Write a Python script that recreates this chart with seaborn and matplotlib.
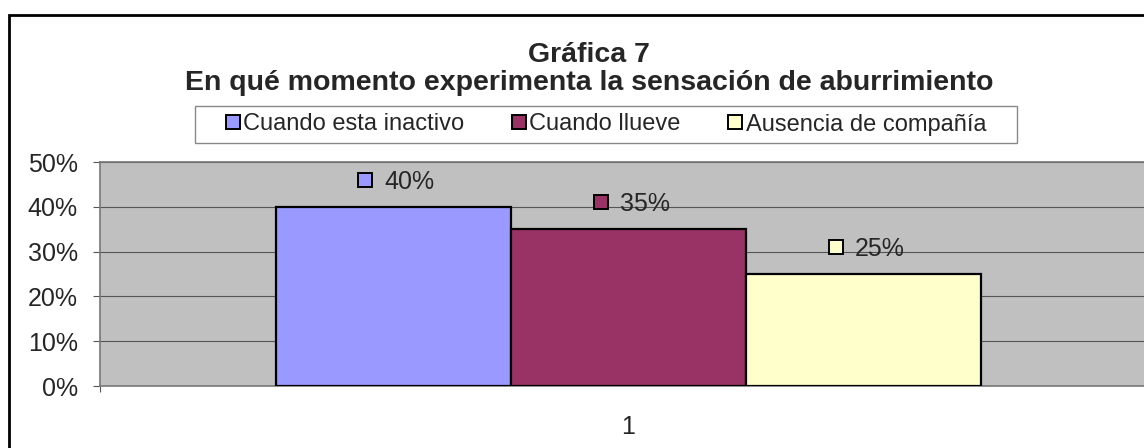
import matplotlib
matplotlib.use('Agg')
import matplotlib.pyplot as plt
from matplotlib.lines import Line2D
from matplotlib.patches import Rectangle
from matplotlib.transforms import offset_copy
import seaborn as sns
import pandas as pd

# data
categories = ["1", "1", "1"]
series = ["Cuando esta inactivo", "Cuando llueve", "Ausencia de compañía"]
values = [0.40, 0.35, 0.25]
value_labels = ["40%", "35%", "25%"]
colors = ["#9999FF", "#993366", "#FFFFCC"]
yticks = [0, 0.1, 0.2, 0.3, 0.4, 0.5]
ytick_labels = ["0%", "10%", "20%", "30%", "40%", "50%"]
title = "Gráfica 7\nEn qué momento experimenta la sensación de aburrimiento"

df = pd.DataFrame({"cat": categories, "serie": series, "valor": values})

sns.set_theme(style="white")
plt.rcParams['font.family'] = ['Liberation Sans', 'DejaVu Sans']

W, H = 1144, 448
fig = plt.figure(figsize=(W / 100, H / 100), dpi=100)

# outer chart border (clipped on right/bottom like the original)
fig.patches.append(Rectangle((9 / W, -0.1), 1.2, (H - 15) / H + 0.1,
                             transform=fig.transFigure, fill=False,
                             edgecolor='black', linewidth=2))

# plot area in pixel coords
left, right, top, bottom = 100, 1157, 162, 386
ax = fig.add_axes([left / W, (H - bottom) / H, (right - left) / W, (bottom - top) / H])
ax.set_facecolor('#C0C0C0')

sns.barplot(data=df, x="cat", y="valor", hue="serie", hue_order=series,
            palette=colors, width=0.667, gap=0, edgecolor='black',
            linewidth=1.6, saturation=1, legend=False, ax=ax, zorder=3)

ax.set_xlim(-0.5, 0.5)
ax.set_ylim(0, 0.5)
ax.set_yticks(yticks)
ax.set_yticklabels(ytick_labels, fontsize=18)
ax.yaxis.grid(True, color='#555555', linewidth=0.8, zorder=0)
ax.set_axisbelow(True)
ax.tick_params(axis='y', left=True, length=5, width=0.8, color='#555555', pad=11)
ax.set_xticks([0])
ax.set_xticklabels(["1"], fontsize=18)
ax.tick_params(axis='x', which='major', bottom=True, length=0, pad=21)
ax.set_xticks([-0.5], minor=True)
ax.tick_params(axis='x', which='minor', bottom=True, length=4.5, width=0.8, color='#555555')
ax.set_xlabel("")
ax.set_ylabel("")
for s in ['left', 'bottom', 'top']:
    ax.spines[s].set_color('#777777')
    ax.spines[s].set_linewidth(1.2)
ax.spines['right'].set_visible(False)

# data labels with legend key squares
for bar, lab, col in zip(ax.patches, value_labels, colors):
    cx = bar.get_x() + bar.get_width() / 2
    h = bar.get_height()
    ax.plot([cx], [h], marker='s', markersize=10, markerfacecolor=col,
            markeredgecolor='black', markeredgewidth=1.4, linestyle='none',
            transform=offset_copy(ax.transData, fig=fig, x=-28, y=27, units='dots'),
            clip_on=False, zorder=5)
    ax.text(cx, h, lab, fontsize=18, ha='left', va='center',
            transform=offset_copy(ax.transData, fig=fig, x=-9, y=25, units='dots'),
            zorder=5)

# title
fig.text(589 / W, 1 - 69 / H, title, ha='center', va='center', fontsize=20.5,
         fontweight='bold', linespacing=1.1)

# legend (frame drawn separately to get the wide side padding)
handles = [Line2D([], [], marker='s', linestyle='none', markersize=10,
                  markerfacecolor=c, markeredgecolor='black', markeredgewidth=1.4)
           for c in colors]
fig.legend(handles, series, loc='center', bbox_to_anchor=(606 / W, 1 - 124.5 / H),
           ncol=3, fontsize=17, frameon=False,
           handlelength=0.6, handletextpad=0.15, columnspacing=2.0,
           borderpad=0.3, borderaxespad=0)
fig.patches.append(Rectangle((195 / W, 1 - 143 / H), (1017 - 195) / W, 37 / H,
                             transform=fig.transFigure, fill=False,
                             edgecolor='#888888', linewidth=1))

fig.savefig("out.png", dpi=100)
